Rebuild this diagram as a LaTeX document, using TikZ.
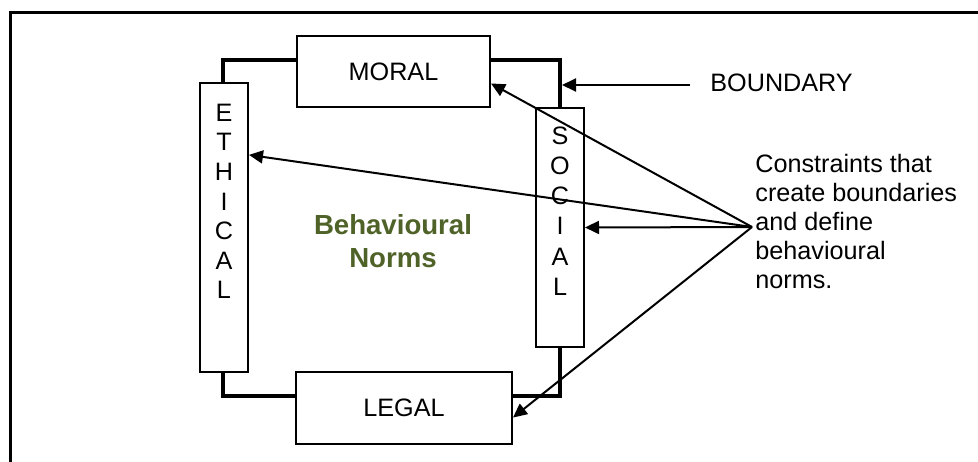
\documentclass[tikz,border=0pt]{standalone}
\usepackage{fontspec}
\setmainfont{Liberation Sans}
\usetikzlibrary{arrows.meta,calc}
\definecolor{normgreen}{RGB}{79,98,40}
\begin{document}
\begin{tikzpicture}[x=.5pt,y=-.5pt,
  box/.style={draw, line width=1pt, fill=white, inner sep=0pt},
  lbl/.style={font=\fontsize{12.6}{14.8}\selectfont, align=center, inner sep=0pt},
  arr/.style={line width=1pt, -{Triangle[length=7pt,width=6.5pt]}}]
\useasboundingbox (0,0) rectangle (978,461);
\draw[line width=1.5pt] (10,470) -- (10,12) -- (990,12);

% boundary line
\coordinate (bnw) at (223,60);
\coordinate (bse) at (560,396);
\draw[line width=2pt] (bnw) rectangle (bse);

\node[box, minimum width=96.5pt, minimum height=35.5pt, lbl] (moral) at (393.5,71.5) {MORAL};
\node[box, minimum width=108pt, minimum height=36pt, lbl] (legal) at (404,408) {LEGAL};
\node[box, minimum width=24pt, minimum height=144.5pt] (ethical) at (224,227.5) {};
\node[box, minimum width=24pt, minimum height=119.5pt] (social) at (560,227.5) {};
\node[lbl] (ethicaltext) at (224,201.5) {E\\T\\H\\I\\C\\A\\L};
\node[lbl, font=\fontsize{12.6}{15.1}\selectfont] (socialtext) at (560,211) {S\\O\\C\\I\\A\\L};

\node[lbl, font=\bfseries\fontsize{13.8}{16.5}\selectfont, text=normgreen] (norms) at (393,241) {Behavioural\\Norms};

\node[lbl, anchor=west] (boundary) at (710,83) {BOUNDARY};
\coordinate (bstart) at (690,85);
\draw[arr] (bstart) -- ([xshift=1pt]bstart -| bse);

\node[lbl, anchor=west, align=left, font=\fontsize{12.6}{14.5}\selectfont] (constraints) at (755,221)
  {Constraints that\\create boundaries\\and define\\behavioural\\norms.};
\coordinate (src) at (752,227);
\draw[arr] (src) -- (moral.-7);
\draw[arr] (src) -- (ethical.71);
\draw[arr] (src) -- (social.east);
\draw[arr] (src) -- (legal.-5);
\end{tikzpicture}
\end{document}
